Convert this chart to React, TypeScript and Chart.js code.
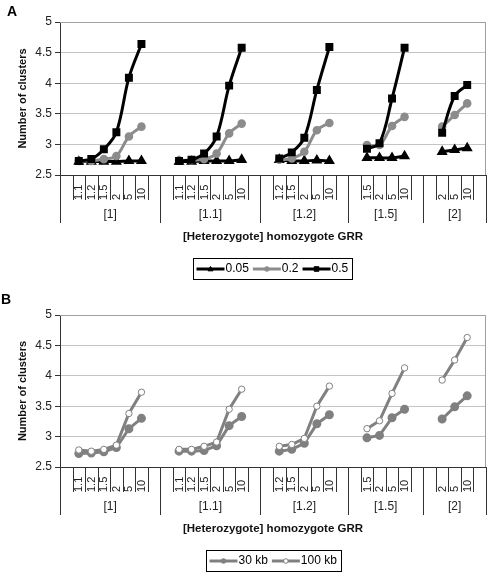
import React, { useEffect, useRef } from "react";
import { Chart, registerables } from "chart.js";

Chart.register(...registerables);

const FONT = '"Liberation Sans", Arial, Helvetica, sans-serif';

// ---- Data ----
const groupLabels = ["[1]", "[1.1]", "[1.2]", "[1.5]", "[2]"];
const groupCategories = [
  ["1.1", "1.2", "1.5", "2", "5", "10"],
  ["1.1", "1.2", "1.5", "2", "5", "10"],
  ["1.2", "1.5", "2", "5", "10"],
  ["1.5", "2", "5", "10"],
  ["2", "5", "10"],
];
const yTickValues = [2.5, 3, 3.5, 4, 4.5, 5];

// Panel A: allele frequency series
const freq005 = [
  [2.72, 2.72, 2.72, 2.72, 2.73, 2.73],
  [2.72, 2.72, 2.73, 2.73, 2.73, 2.75],
  [2.75, 2.73, 2.73, 2.74, 2.73],
  [2.78, 2.78, 2.78, 2.81],
  [2.88, 2.91, 2.94],
];
const freq02 = [
  [2.73, 2.73, 2.76, 2.81, 3.13, 3.29],
  [2.74, 2.74, 2.76, 2.85, 3.18, 3.34],
  [2.75, 2.77, 2.88, 3.23, 3.35],
  [2.99, 2.99, 3.3, 3.45],
  [3.29, 3.48, 3.67],
];
const freq05 = [
  [2.73, 2.76, 2.92, 3.2, 4.09, 4.64],
  [2.73, 2.75, 2.85, 3.13, 3.96, 4.58],
  [2.77, 2.87, 3.11, 3.89, 4.59],
  [2.93, 3.02, 3.75, 4.58],
  [3.19, 3.79, 3.97],
];

// Panel B: marker spacing series
const kb30 = [
  [2.72, 2.73, 2.75, 2.82, 3.13, 3.3],
  [2.76, 2.76, 2.77, 2.85, 3.18, 3.33],
  [2.76, 2.79, 2.89, 3.21, 3.36],
  [2.98, 3.02, 3.31, 3.45],
  [3.29, 3.49, 3.67],
];
const kb100 = [
  [2.78, 2.76, 2.79, 2.86, 3.38, 3.73],
  [2.79, 2.79, 2.84, 2.91, 3.45, 3.78],
  [2.84, 2.87, 2.97, 3.5, 3.83],
  [3.13, 3.26, 3.71, 4.13],
  [3.93, 4.26, 4.63],
];

const legendA = ["0.05", "0.2", "0.5"];
const legendB = ["30 kb", "100 kb"];
const xTitle = "[Heterozygote] homozygote GRR";
const yTitle = "Number of clusters";

// ---- helpers ----
function flatLabels(): string[] {
  const out: string[] = [];
  groupCategories.forEach((c) => {
    out.push("");
    out.push(...c);
    out.push("");
  });
  return out;
}
function flatSeries(s: number[][]): (number | null)[] {
  const out: (number | null)[] = [];
  s.forEach((g) => {
    out.push(null);
    out.push(...g);
    out.push(null);
  });
  return out;
}
function groupRanges(): { start: number; end: number }[] {
  const r: { start: number; end: number }[] = [];
  let i = 0;
  groupCategories.forEach((c) => {
    const len = c.length + 2;
    r.push({ start: i, end: i + len - 1 });
    i += len;
  });
  return r;
}

const LABELS = flatLabels();
const RANGES = groupRanges();

type LegendItem = {
  text: string;
  color: string;
  marker: "triangle" | "circle" | "rect";
  fill: string;
};

function drawMarker(ctx: CanvasRenderingContext2D, m: string, x: number, y: number, r: number, fill: string, stroke: string) {
  ctx.beginPath();
  if (m === "circle") {
    ctx.arc(x, y, r, 0, Math.PI * 2);
  } else if (m === "rect") {
    ctx.rect(x - r, y - r, 2 * r, 2 * r);
  } else {
    ctx.moveTo(x, y - r * 1.1);
    ctx.lineTo(x + r * 1.1, y + r * 0.8);
    ctx.lineTo(x - r * 1.1, y + r * 0.8);
    ctx.closePath();
  }
  ctx.fillStyle = fill;
  ctx.fill();
  ctx.lineWidth = 1;
  ctx.strokeStyle = stroke;
  ctx.stroke();
}

function makeDecor(legend: LegendItem[]) {
  return {
    id: "decor",
    beforeDatasetsDraw(chart: any) {
      const { ctx, chartArea: ca } = chart;
      ctx.save();
      ctx.strokeStyle = "#a0a0a0";
      ctx.lineWidth = 1;
      ctx.beginPath();
      ctx.moveTo(ca.left, Math.round(ca.top) + 0.5);
      ctx.lineTo(Math.round(ca.right) - 0.5, Math.round(ca.top) + 0.5);
      ctx.lineTo(Math.round(ca.right) - 0.5, ca.bottom);
      ctx.stroke();
      ctx.restore();
    },
    afterDraw(chart: any) {
      const { ctx, chartArea: ca } = chart;
      const xs = chart.scales.x;
      const n = LABELS.length;
      const half = (xs.getPixelForValue(1) - xs.getPixelForValue(0)) / 2;
      const bottom = Math.round(ca.bottom);
      const starts = new Set(RANGES.map((r) => r.start));
      ctx.save();
      // category separator lines
      ctx.strokeStyle = "#333";
      ctx.lineWidth = 1;
      for (let i = 0; i <= n; i++) {
        const bx = i < n ? xs.getPixelForValue(i) - half : xs.getPixelForValue(n - 1) + half;
        const long = starts.has(i) || i === n;
        const len = long ? 48 : 25;
        const px = Math.round(bx) + 0.5;
        ctx.beginPath();
        ctx.moveTo(px, bottom);
        ctx.lineTo(px, bottom + len);
        ctx.stroke();
      }
      // rotated category labels
      ctx.fillStyle = "#222";
      ctx.font = `11px ${FONT}`;
      ctx.textAlign = "left";
      ctx.textBaseline = "middle";
      for (let i = 0; i < n; i++) {
        const t = LABELS[i];
        if (!t) continue;
        ctx.save();
        ctx.translate(xs.getPixelForValue(i) + 0.5, bottom + 25);
        ctx.rotate(-Math.PI / 2);
        ctx.fillText(t, 0, 0);
        ctx.restore();
      }
      // group labels
      ctx.font = `12px ${FONT}`;
      ctx.textAlign = "center";
      RANGES.forEach((r, gi) => {
        const cx = (xs.getPixelForValue(r.start) + xs.getPixelForValue(r.end)) / 2;
        ctx.fillText(groupLabels[gi], cx, bottom + 40);
      });
      // x title
      ctx.fillStyle = "#111";
      ctx.font = `bold 11.5px ${FONT}`;
      ctx.fillText(xTitle, (ca.left + ca.right) / 2, bottom + 62);
      // legend
      ctx.font = `12px ${FONT}`;
      const sampleW = 28;
      const gap = 4;
      const padL = 3.5;
      const padR = 4;
      const widths = legend.map((it) => sampleW + 1 + ctx.measureText(it.text).width);
      const total = widths.reduce((a, b) => a + b, 0) + gap * (legend.length - 1) + padL + padR;
      const left = Math.round((ca.left + ca.right) / 2 - total / 2);
      const top = bottom + 83;
      const h = 21;
      ctx.strokeStyle = "#000";
      ctx.lineWidth = 1;
      ctx.strokeRect(left + 0.5, top + 0.5, Math.round(total), h);
      let px = left + padL;
      const cy = top + h / 2 + 0.5;
      legend.forEach((it, k) => {
        ctx.strokeStyle = it.color;
        ctx.lineWidth = 3;
        ctx.beginPath();
        ctx.moveTo(px, cy);
        ctx.lineTo(px + sampleW, cy);
        ctx.stroke();
        drawMarker(ctx, it.marker, px + sampleW / 2, cy, 2.3, it.fill, it.color);
        ctx.fillStyle = "#000";
        ctx.textAlign = "left";
        ctx.textBaseline = "middle";
        ctx.fillText(it.text, px + sampleW + 1, cy);
        px += widths[k] + gap;
      });
      ctx.restore();
    },
  };
}

function baseOptions(padTop: number, padRight: number): any {
  return {
    responsive: false,
    animation: false,
    maintainAspectRatio: false,
    layout: { padding: { left: 0, right: padRight, top: padTop, bottom: 0 } },
    plugins: { legend: { display: false }, tooltip: { enabled: false }, title: { display: false } },
    scales: {
      x: {
        type: "category",
        labels: LABELS,
        offset: true,
        grid: { display: false },
        border: { display: true, color: "#333", width: 1 },
        ticks: { display: false, autoSkip: false },
        afterFit: (s: any) => {
          s.height = 108;
        },
      },
      y: {
        min: 2.5,
        max: 5,
        afterBuildTicks: (s: any) => {
          s.ticks = yTickValues.map((v) => ({ value: v }));
        },
        ticks: {
          font: { size: 12, family: FONT },
          color: "#222",
          padding: 3,
          callback: (v: any) => String(v),
        },
        grid: { color: "#c4c4c4", tickColor: "#333", tickLength: 5, lineWidth: 1 },
        border: { display: true, color: "#333", width: 1 },
        title: {
          display: true,
          text: yTitle,
          font: { size: 11, weight: "bold", family: FONT },
          color: "#111",
          padding: { top: 16, bottom: 0 },
        },
        afterFit: (s: any) => {
          s.width = 60;
        },
      },
    },
  };
}

const GRAY_A = "#8c8c8c";
const GRAY_B = "#808080";

function PanelA() {
  const ref = useRef<HTMLCanvasElement | null>(null);
  useEffect(() => {
    if (!ref.current) return;
    const legend: LegendItem[] = [
      { text: legendA[0], color: "#000", marker: "triangle", fill: "#000" },
      { text: legendA[1], color: GRAY_A, marker: "circle", fill: GRAY_A },
      { text: legendA[2], color: "#000", marker: "rect", fill: "#000" },
    ];
    const chart = new Chart(ref.current, {
      type: "line",
      data: {
        labels: LABELS,
        datasets: [
          {
            label: legendA[0],
            data: flatSeries(freq005),
            borderColor: "#000",
            backgroundColor: "#000",
            pointBorderColor: "#000",
            borderWidth: 3,
            pointStyle: "triangle",
            pointRadius: 3.4,
            tension: 0.35,
            spanGaps: false,
            order: 2,
          },
          {
            label: legendA[1],
            data: flatSeries(freq02),
            borderColor: GRAY_A,
            backgroundColor: GRAY_A,
            pointBorderColor: GRAY_A,
            borderWidth: 3,
            pointStyle: "circle",
            pointRadius: 2.8,
            tension: 0.35,
            spanGaps: false,
            order: 1,
          },
          {
            label: legendA[2],
            data: flatSeries(freq05),
            borderColor: "#000",
            backgroundColor: "#000",
            pointBorderColor: "#000",
            borderWidth: 3,
            pointStyle: "rect",
            pointRadius: 3.5,
            tension: 0.35,
            spanGaps: false,
            order: 0,
          },
        ],
      },
      options: baseOptions(22, 4),
      plugins: [makeDecor(legend)],
    } as any);
    return () => chart.destroy();
  }, []);
  return <canvas ref={ref} width={493} height={283} style={{ display: "block" }} />;
}

function PanelB() {
  const ref = useRef<HTMLCanvasElement | null>(null);
  useEffect(() => {
    if (!ref.current) return;
    const legend: LegendItem[] = [
      { text: legendB[0], color: GRAY_B, marker: "circle", fill: GRAY_B },
      { text: legendB[1], color: GRAY_B, marker: "circle", fill: "#fff" },
    ];
    const chart = new Chart(ref.current, {
      type: "line",
      data: {
        labels: LABELS,
        datasets: [
          {
            label: legendB[0],
            data: flatSeries(kb30),
            borderColor: GRAY_B,
            backgroundColor: GRAY_B,
            pointBackgroundColor: GRAY_B,
            pointBorderColor: GRAY_B,
            borderWidth: 3,
            pointStyle: "circle",
            pointRadius: 3,
            tension: 0,
            spanGaps: false,
            order: 1,
          },
          {
            label: legendB[1],
            data: flatSeries(kb100),
            borderColor: GRAY_B,
            backgroundColor: "#fff",
            pointBackgroundColor: "#fff",
            pointBorderColor: GRAY_B,
            pointBorderWidth: 1,
            borderWidth: 3,
            pointStyle: "circle",
            pointRadius: 3.2,
            tension: 0,
            spanGaps: false,
            order: 0,
          },
        ],
      },
      options: baseOptions(32, 6),
      plugins: [makeDecor(legend)],
    } as any);
    return () => chart.destroy();
  }, []);
  return <canvas ref={ref} width={493} height={292} style={{ display: "block" }} />;
}

export default function App() {
  const letter: React.CSSProperties = {
    position: "absolute",
    fontFamily: FONT,
    fontWeight: "bold",
    fontSize: 14,
    lineHeight: "16px",
    color: "#000",
  };
  return (
    <div style={{ position: "absolute", left: 0, top: 0, width: 493, height: 575, background: "#fff", overflow: "hidden" }}>
      <div style={{ position: "absolute", left: 0, top: 0 }}>
        <PanelA />
      </div>
      <div style={{ position: "absolute", left: 0, top: 283 }}>
        <PanelB />
      </div>
      <div style={{ ...letter, left: 7, top: 3 }}>A</div>
      <div style={{ ...letter, left: 1, top: 291 }}>B</div>
    </div>
  );
}
